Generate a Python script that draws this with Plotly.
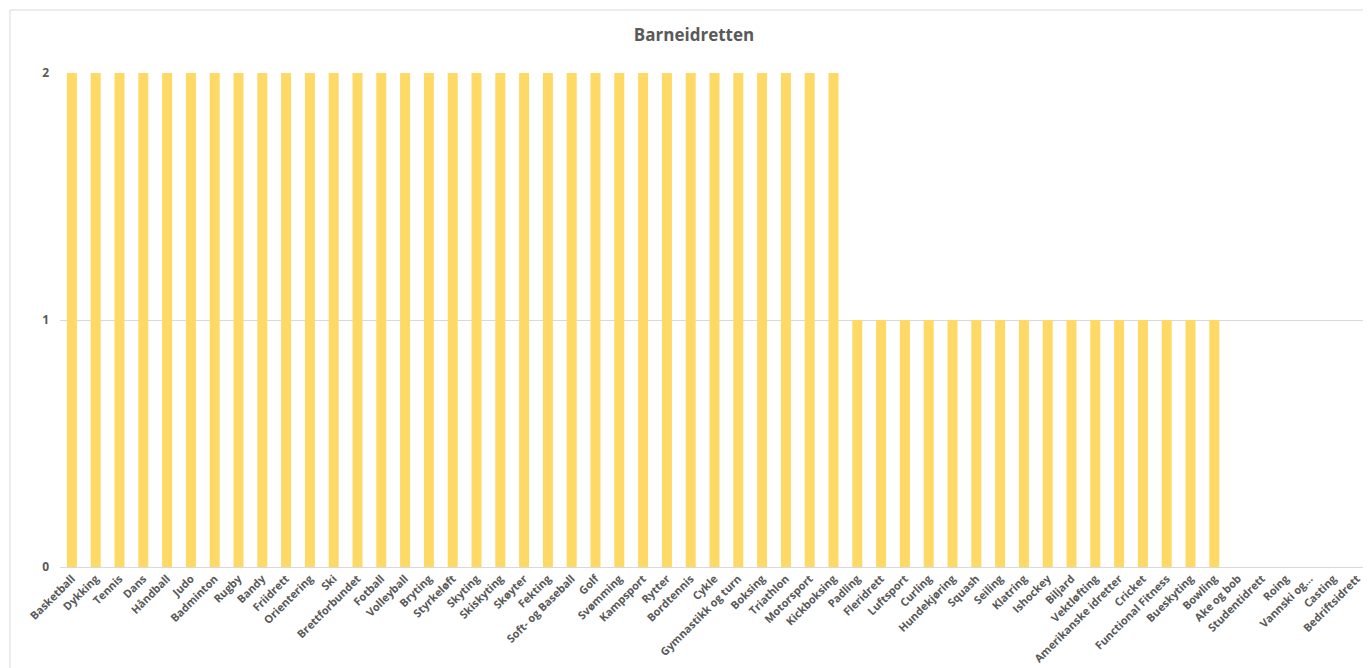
import plotly.graph_objects as go

categories = ["Basketball", "Dykking", "Tennis", "Dans", "Håndball", "Judo", "Badminton", "Rugby",
              "Bandy", "Friidrett", "Orientering", "Ski", "Brettforbundet", "Fotball", "Volleyball",
              "Bryting", "Styrkeløft", "Skyting", "Skiskyting", "Skøyter", "Fekting", "Soft- og Baseball",
              "Golf", "Svømming", "Kampsport", "Rytter", "Bordtennis", "Cykle", "Gymnastikk og turn",
              "Boksing", "Triathlon", "Motorsport", "Kickboksing", "Padling", "Fleridrett", "Luftsport",
              "Curling", "Hundekjøring", "Squash", "Seiling", "Klatring", "Ishockey", "Biljard",
              "Vektløfting", "Amerikanske idretter", "Cricket", "Functional Fitness", "Bueskyting",
              "Bowling", "Ake og bob", "Studentidrett", "Roing", "Vannski og...", "Casting",
              "Bedriftsidrett"]
values = [2] * 33 + [1] * 16 + [0] * 6
y_ticks = [0, 1, 2]

# page has an 8px body margin; figure is placed at (8, 8)
OFF = 8
W, H = 1363, 660
ml, mr, mt, mb = 60 - OFF, 2, 73 - OFF, 101
pw, ph = W - ml - mr, H - mt - mb

fig = go.Figure(go.Bar(x=categories, y=values, marker_color="#FFD966", marker_line_width=0))

fig.update_layout(
    width=W, height=H,
    margin=dict(l=ml, r=mr, t=mt, b=mb, autoexpand=False),
    paper_bgcolor="white", plot_bgcolor="white",
    bargap=0.58,
    showlegend=False,
    title=dict(text="<b>Barneidretten</b>", x=(694 - OFF - ml) / pw, xref="paper", xanchor="center",
               y=1 - (35 - OFF) / H, yanchor="middle",
               font=dict(family="Open Sans", size=17, color="#595959")),
    font=dict(family="Open Sans", color="#595959"),
    xaxis=dict(tickangle=-45, tickfont=dict(size=11, color="#595959", family="Open Sans"),
               showgrid=False, showline=True, linecolor="#d9d9d9", linewidth=1, ticks="",
               tickprefix="<b>", ticksuffix="</b>", automargin=False),
    yaxis=dict(range=[0, 2], tickvals=y_ticks, ticktext=[f"<b>{v}</b>" for v in y_ticks],
               showgrid=True, gridcolor="#d9d9d9", gridwidth=1, zeroline=False,
               tickfont=dict(size=12, color="#595959"), ticks="", ticklabelstandoff=10,
               showline=False, automargin=False),
    shapes=[dict(type="rect", xref="paper", yref="paper",
                 x0=(10 - OFF - ml) / pw, x1=1.2, y0=-0.5, y1=(H - mb - (10 - OFF)) / ph,
                 line=dict(color="#d9d9d9", width=1), fillcolor="rgba(0,0,0,0)", layer="below")],
)

fig.write_html("out.html")
